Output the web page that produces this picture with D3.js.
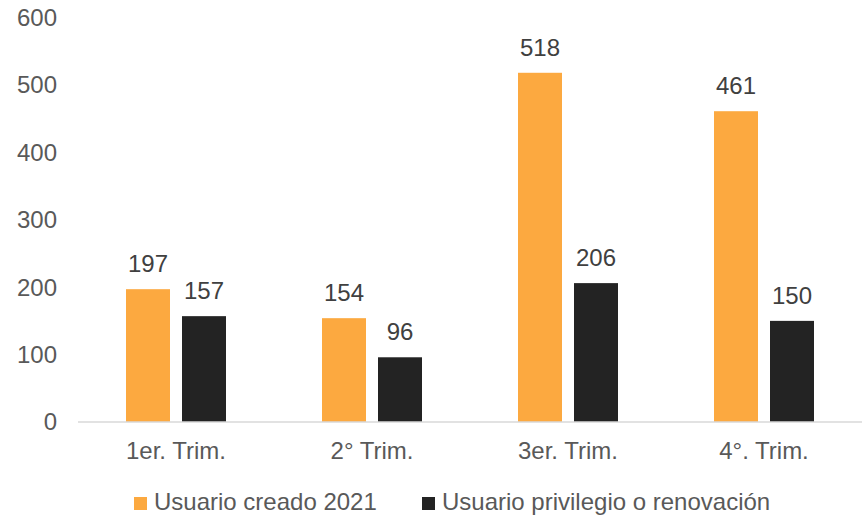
<!DOCTYPE html>
<html>
<head>
<meta charset="utf-8">
<script src="https://cdn.jsdelivr.net/npm/d3@7"></script>
<style>
  body { margin: 0; background: #fff; }
  svg text { font-family: "Liberation Sans", Arial, sans-serif; }
</style>
</head>
<body>
<svg width="864" height="515"></svg>
<script>
var categories = ["1er. Trim.", "2° Trim.", "3er. Trim.", "4°. Trim."];
var seriesNames = ["Usuario creado 2021", "Usuario privilegio o renovación"];
var creado = [197, 154, 518, 461];
var privilegio = [157, 96, 206, 150];
var yTicks = [0, 100, 200, 300, 400, 500, 600];
var colors = ["#FCA940", "#232323"];

var svg = d3.select("svg");
var plotLeft = 78, plotRight = 862, plotTop = 17.5, plotBottom = 422;
var fontSize = "24px";

var y = d3.scaleLinear().domain([0, 600]).range([plotBottom, plotTop]);
var x0 = d3.scaleBand().domain(categories).range([plotLeft, plotRight]);
var x1 = d3.scaleBand().domain(seriesNames).range([0, 100]).paddingInner(0.2143);
var groupOff = (x0.bandwidth() - 100) / 2;

var rows = categories.map(function(c, i) {
  return { cat: c, values: [creado[i], privilegio[i]] };
});

// y axis labels
svg.append("g")
  .selectAll("text")
  .data(yTicks)
  .enter().append("text")
  .attr("x", 57)
  .attr("y", function(d) { return y(d); })
  .attr("dy", "0.35em")
  .attr("text-anchor", "end")
  .attr("fill", "#595959")
  .style("font-size", fontSize)
  .text(function(d) { return d; });

// bars
var groups = svg.append("g")
  .selectAll("g")
  .data(rows)
  .enter().append("g")
  .attr("transform", function(d) { return "translate(" + (x0(d.cat) + groupOff) + ",0)"; });

groups.selectAll("rect")
  .data(function(d) { return d.values.map(function(v, j) { return { name: seriesNames[j], v: v, j: j }; }); })
  .enter().append("rect")
  .attr("x", function(d) { return x1(d.name); })
  .attr("width", x1.bandwidth())
  .attr("y", function(d) { return y(d.v); })
  .attr("height", function(d) { return y(0) - y(d.v); })
  .attr("fill", function(d) { return colors[d.j]; });

groups.selectAll("text")
  .data(function(d) { return d.values.map(function(v, j) { return { name: seriesNames[j], v: v }; }); })
  .enter().append("text")
  .attr("x", function(d) { return x1(d.name) + x1.bandwidth() / 2; })
  .attr("y", function(d) { return y(d.v) - 17; })
  .attr("text-anchor", "middle")
  .attr("fill", "#404040")
  .style("font-size", fontSize)
  .text(function(d) { return d.v; });

// x axis line
svg.append("line")
  .attr("x1", plotLeft).attr("x2", plotRight)
  .attr("y1", y(0)).attr("y2", y(0))
  .attr("stroke", "#D9D9D9")
  .attr("stroke-width", 1.5);

// x labels
svg.append("g")
  .selectAll("text")
  .data(categories)
  .enter().append("text")
  .attr("x", function(d) { return x0(d) + x0.bandwidth() / 2; })
  .attr("y", 459)
  .attr("text-anchor", "middle")
  .attr("fill", "#595959")
  .style("font-size", fontSize)
  .text(function(d) { return d; });

// legend
var legendX = [134, 422];
var legend = svg.append("g")
  .selectAll("g")
  .data(seriesNames)
  .enter().append("g")
  .attr("transform", function(d, i) { return "translate(" + legendX[i] + ",0)"; });

legend.append("rect")
  .attr("x", 0).attr("y", 497)
  .attr("width", 13).attr("height", 13)
  .attr("fill", function(d, i) { return colors[i]; });

legend.append("text")
  .attr("x", 20)
  .attr("y", 510)
  .attr("fill", "#595959")
  .style("font-size", fontSize)
  .text(function(d) { return d; });
</script>
</body>
</html>
